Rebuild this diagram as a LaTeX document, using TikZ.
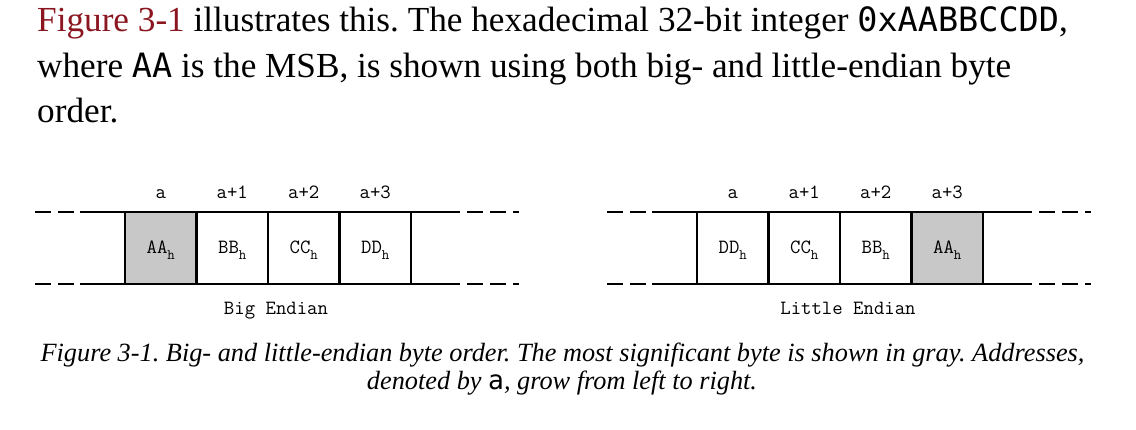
\documentclass[tikz,border=0pt]{standalone}
\usepackage{fontspec}
\setmainfont{Liberation Serif}
\newfontfamily\codefont{DejaVu Sans Mono}
\definecolor{linkred}{RGB}{139,22,32}
\definecolor{msbgray}{RGB}{200,200,200}
\newcommand\hsub{\raisebox{-6pt}{\fontsize{14.5}{14.5}\selectfont h}}
\frenchspacing
\begin{document}
\begin{tikzpicture}[x=1pt,y=-1pt,
  body/.style={anchor=base west, inner sep=0pt, font=\fontsize{35.2}{44}\selectfont},
  capt/.style={anchor=base, inner sep=0pt, font=\itshape\fontsize{26.3}{28}\selectfont},
  cell/.style={draw, line width=2.8pt, minimum width=71.5pt, minimum height=72pt, inner sep=0pt, outer sep=0pt,
    anchor=west, text height=15pt, text depth=3pt, font=\ttfamily\fontsize{20.2}{20}\selectfont},
  msb/.style={cell, fill=msbgray},
  rail/.style={line width=2.8pt},
  dashrail/.style={line width=2.8pt, dash pattern=on 16pt off 7pt},
  addr/.style={anchor=base, inner sep=0pt, font=\ttfamily\fontsize{20.2}{20}\selectfont},
  ]
\useasboundingbox (0,0) rectangle (1136,430);
% paragraph
\node[body] (p1) at (37,32) {{\color{linkred}Figure 3-1} illustrates this. The hexadecimal 32-bit integer {\codefont\fontsize{33.5}{44}\selectfont 0xAABBCCDD},};
\node[body] (p2) at (37,77.5) {where {\codefont\fontsize{33.5}{44}\selectfont AA} is the MSB, is shown using both big- and little-endian byte};
\node[body] (p3) at (37,123) {order.};

% big endian
\coordinate (bl1) at (35,212); \coordinate (bl2) at (80,212);
\coordinate (bl3) at (460,212); \coordinate (bl4) at (519,212);
\coordinate (bb1) at (35,284); \coordinate (bb2) at (80,284);
\coordinate (bb3) at (460,284); \coordinate (bb4) at (519,284);
\draw[dashrail] (bl1) -- ([xshift=-6pt]bl2);
\draw[dashrail] ([xshift=7pt]bl3) -- (bl4);
\draw[dashrail] (bb1) -- ([xshift=-6pt]bb2);
\draw[dashrail] ([xshift=7pt]bb3) -- (bb4);
\draw[rail] (bl2) -- (bl3);
\draw[rail] (bb2) -- (bb3);
\node[msb]  (b1) at (125,248) {AA\hsub};
\node[cell] (b2) at (b1.east) {BB\hsub};
\node[cell] (b3) at (b2.east) {CC\hsub};
\node[cell] (b4) at (b3.east) {DD\hsub};
\node[addr] (ba1) at (b1.center |- 0,199) {a};
\node[addr] (ba2) at (b2.center |- 0,199) {a+1};
\node[addr] (ba3) at (b3.center |- 0,199) {a+2};
\node[addr] (ba4) at (b4.center |- 0,199) {a+3};
\node[addr] (bt) at (276,315) {Big Endian};

% little endian
\coordinate (ll1) at (607,212); \coordinate (ll2) at (652,212);
\coordinate (ll3) at (1032,212); \coordinate (ll4) at (1091,212);
\coordinate (lb1) at (607,284); \coordinate (lb2) at (652,284);
\coordinate (lb3) at (1032,284); \coordinate (lb4) at (1091,284);
\draw[dashrail] (ll1) -- ([xshift=-6pt]ll2);
\draw[dashrail] ([xshift=7pt]ll3) -- (ll4);
\draw[dashrail] (lb1) -- ([xshift=-6pt]lb2);
\draw[dashrail] ([xshift=7pt]lb3) -- (lb4);
\draw[rail] (ll2) -- (ll3);
\draw[rail] (lb2) -- (lb3);
\node[cell] (l1) at (697,248) {DD\hsub};
\node[cell] (l2) at (l1.east) {CC\hsub};
\node[cell] (l3) at (l2.east) {BB\hsub};
\node[msb]  (l4) at (l3.east) {AA\hsub};
\node[addr] (la1) at (l1.center |- 0,199) {a};
\node[addr] (la2) at (l2.center |- 0,199) {a+1};
\node[addr] (la3) at (l3.center |- 0,199) {a+2};
\node[addr] (la4) at (l4.center |- 0,199) {a+3};
\node[addr] (lt) at (848,315) {Little Endian};

% caption
\node[capt] (c1) at (562.5,362) {Figure 3-1. Big- and little-endian byte order. The most significant byte is shown in gray. Addresses,};
\node[capt] (c2) at (562,390) {denoted by {\upshape\codefont a}, grow from left to right.};
\end{tikzpicture}
\end{document}
